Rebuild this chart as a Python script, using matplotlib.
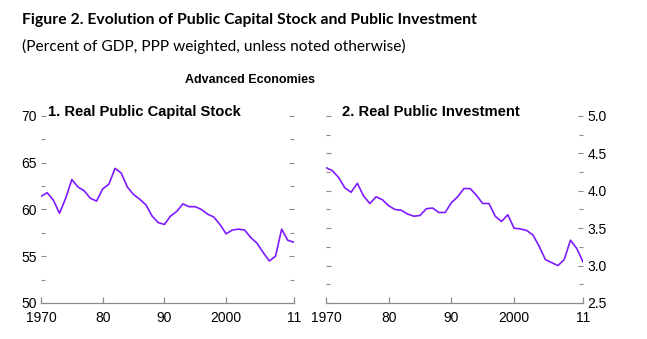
import matplotlib
matplotlib.use("Agg")
import matplotlib.pyplot as plt
from matplotlib.ticker import MultipleLocator, FixedLocator

years = list(range(1970, 2012))

capital_stock = [
    61.4, 61.8, 61.0, 59.6, 61.2, 63.2, 62.4, 62.0, 61.2, 60.9,
    62.2, 62.7, 64.4, 63.9, 62.4, 61.6, 61.1, 60.5, 59.3, 58.6,
    58.4, 59.3, 59.8, 60.6, 60.3, 60.3, 60.0, 59.5, 59.2, 58.4,
    57.4, 57.8, 57.9, 57.8, 57.0, 56.4, 55.4, 54.5, 55.0, 57.9,
    56.7, 56.5,
]

public_investment = [
    4.31, 4.27, 4.18, 4.04, 3.98, 4.10, 3.93, 3.83, 3.92, 3.88,
    3.80, 3.75, 3.74, 3.69, 3.66, 3.67, 3.76, 3.77, 3.71, 3.71,
    3.84, 3.92, 4.03, 4.03, 3.94, 3.83, 3.83, 3.66, 3.59, 3.68,
    3.50, 3.49, 3.47, 3.41, 3.26, 3.08, 3.04, 3.00, 3.08, 3.34,
    3.23, 3.05,
]

x_tick_years = [1970, 1980, 1990, 2000, 2011]
x_tick_labels = ["1970", "80", "90", "2000", "11"]

fig_title = "Figure 2. Evolution of Public Capital Stock and Public Investment"
fig_subtitle = "(Percent of GDP, PPP weighted, unless noted otherwise)"
group_title = "Advanced Economies"
panel_titles = ["1. Real Public Capital Stock", "2. Real Public Investment"]

LINE = "#7F1AFF"
AXIS = "#8c8c8c"
SANS = ["Liberation Sans", "DejaVu Sans"]
HEAD = ["Lato", "DejaVu Sans"]

fig = plt.figure(figsize=(6.47, 3.39), dpi=100)
fig.patch.set_facecolor("white")

fig.text(22 / 647, 1 - 20 / 339, fig_title, fontsize=11.3, fontweight="bold",
         family=HEAD, va="center", ha="left")
fig.text(22 / 647, 1 - 46 / 339, fig_subtitle, fontsize=11.2,
         family=HEAD, va="center", ha="left")
fig.text(250 / 647, 1 - 80 / 339, group_title, fontsize=9, fontweight="bold",
         family=SANS, va="center", ha="center")

ax1 = fig.add_axes([41 / 647, 36 / 339, 253 / 647, 187 / 339])
ax2 = fig.add_axes([326 / 647, 36 / 339, 257 / 647, 187 / 339])


def style(ax, ylim, major, minor, label_side):
    ax.set_xlim(1970, 2011)
    ax.set_ylim(*ylim)
    for s in ("top", "left", "right"):
        ax.spines[s].set_visible(False)
    ax.spines["bottom"].set_color(AXIS)
    ax.spines["bottom"].set_linewidth(0.9)
    ax.xaxis.set_major_locator(FixedLocator(x_tick_years))
    ax.set_xticklabels(x_tick_labels, family=SANS, fontsize=10)
    ax.tick_params(axis="x", direction="in", length=4, width=0.9,
                   color=AXIS, pad=6)
    ax.yaxis.set_major_locator(MultipleLocator(major))
    ax.yaxis.set_minor_locator(MultipleLocator(minor))
    ax.tick_params(axis="y", which="both", direction="in", length=3,
                   width=0.8, color=AXIS, left=True, right=True,
                   labelleft=(label_side == "left"),
                   labelright=(label_side == "right"), pad=3)
    ax.tick_params(axis="y", which="major", length=3.5)
    ax.set_facecolor("white")


ax1.plot(years, capital_stock, color=LINE, lw=1.2)
style(ax1, (50, 70), 5, 2.5, "left")
ax1.set_yticks([50, 55, 60, 65, 70])
ax1.set_yticklabels(["50", "55", "60", "65", "70"], family=SANS, fontsize=10)

ax2.plot(years, public_investment, color=LINE, lw=1.2)
style(ax2, (2.5, 5.0), 0.5, 0.25, "right")
ax2.set_yticks([2.5, 3.0, 3.5, 4.0, 4.5, 5.0])
ax2.set_yticklabels(["2.5", "3.0", "3.5", "4.0", "4.5", "5.0"],
                    family=SANS, fontsize=10)

fig.text(48 / 647, 1 - 112 / 339, panel_titles[0], fontsize=10.6,
         fontweight="bold", family=SANS, va="center", ha="left")
fig.text(342 / 647, 1 - 112 / 339, panel_titles[1], fontsize=10.6,
         fontweight="bold", family=SANS, va="center", ha="left")

fig.savefig("out.png", dpi=100, facecolor="white")
